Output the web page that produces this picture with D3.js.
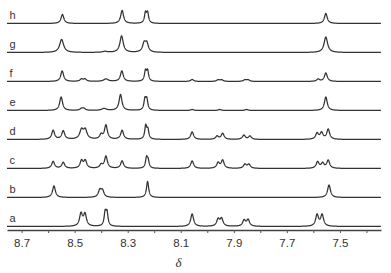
<!DOCTYPE html>
<html>
<head>
<meta charset="utf-8">
<script src="https://cdn.jsdelivr.net/npm/d3@7"></script>
<style>
  body { margin: 0; background: #fff; }
  svg { display: block; }
</style>
</head>
<body>
<div id="chart"></div>
<script>
// samples, top to bottom
const samples = ['h', 'g', 'f', 'e', 'd', 'c', 'b', 'a']

// peak lists: [shift (ppm), intensity, half width (ppm, optional)]
const peaksH = [[8.546, 9], [8.321, 13], [8.233, 10, 0.0045], [8.225, 10, 0.0045], [7.553, 10]]
const peaksG = [[8.549, 13, 0.009], [8.386, 1, 0.01], [8.323, 16.5, 0.0075], [8.238, 8.5, 0.007], [8.228, 8.5, 0.007], [7.553, 15.5, 0.008]]
const peaksF = [[8.547, 10.5], [8.474, 2.3], [8.461, 2.3], [8.382, 2.5, 0.01], [8.322, 10.5], [8.233, 10, 0.0045], [8.225, 10, 0.0045],
                [8.057, 2], [7.959, 1.6], [7.946, 1.6], [7.858, 1.6], [7.846, 1.6], [7.582, 2.3], [7.553, 8.5]]
const peaksE = [[8.551, 13.5], [8.474, 1.8], [8.465, 1.8], [8.389, 2, 0.01], [8.327, 16], [8.235, 10.5, 0.0045], [8.228, 10.5, 0.0045],
                [8.057, 1], [7.953, 1], [7.852, 1], [7.553, 13.5]]
const peaksD = [[8.581, 9], [8.543, 8.5], [8.474, 9, 0.008], [8.460, 9, 0.008], [8.400, 4.5], [8.382, 14], [8.321, 9],
                [8.232, 13, 0.0045], [8.224, 9, 0.0045], [8.057, 7.5], [7.963, 3.2], [7.942, 6], [7.862, 4.2], [7.839, 3.3],
                [7.586, 6], [7.569, 6.5], [7.544, 10]]
const peaksC = [[8.581, 7], [8.543, 6], [8.474, 7.5], [8.460, 7.5], [8.400, 3.5], [8.382, 12], [8.321, 7.5],
                [8.229, 10, 0.0045], [8.223, 7, 0.0045], [8.057, 7.5], [7.959, 5.5], [7.942, 8], [7.858, 4], [7.843, 4],
                [7.584, 6.5], [7.565, 5], [7.544, 8]]
const peaksB = [[8.578, 11.5], [8.405, 7], [8.395, 6.5], [8.225, 16, 0.005], [7.541, 12.5]]
const peaksA = [[8.476, 12.5], [8.461, 12], [8.385, 13, 0.0045], [8.378, 13, 0.0045], [8.057, 12.5], [7.959, 7], [7.946, 7.5],
                [7.861, 6], [7.846, 6.5], [7.586, 11.5], [7.567, 11.5]]

const peakLists = { h: peaksH, g: peaksG, f: peaksF, e: peaksE, d: peaksD, c: peaksC, b: peaksB, a: peaksA }

// axis
const shiftRange = [8.755, 7.345]
const tickValues = [8.7, 8.6, 8.5, 8.4, 8.3, 8.2, 8.1, 8.0, 7.9, 7.8, 7.7, 7.6, 7.5, 7.4]
const tickLabels = ['8.7', '8.5', '8.3', '8.1', '7.9', '7.7', '7.5']

const width = 391
const height = 273
const defaultHalfWidth = 0.0065

const x = d3.scaleLinear().domain(shiftRange).range([7, 381])
const yBase = d3.scalePoint().domain(samples).range([23.5, 226.5])
const yAmp = d3.scaleLinear().domain([0, 20]).range([0, 20])

// lorentzian line shape for each peak
function spectrum(peaks) {
    let pts = []
    for (let s = shiftRange[0]; s >= shiftRange[1]; s -= 0.0004) {
        let v = 0
        peaks.forEach(p => {
            let w = p[2] || defaultHalfWidth
            let d = (s - p[0]) / w
            v += p[1] / (1 + d * d)
        })
        pts.push([s, v])
    }
    return pts
}

let svg = d3.select('#chart')
    .append('svg')
    .attr('width', width)
    .attr('height', height)
    .style('background', '#fff')

samples.forEach(name => {
    let line = d3.line()
        .x(d => x(d[0]))
        .y(d => yBase(name) - yAmp(d[1]))

    svg.append('path')
        .datum(spectrum(peakLists[name]))
        .attr('d', line)
        .attr('fill', 'none')
        .attr('stroke', '#333')
        .attr('stroke-width', 1.25)
        .attr('stroke-linejoin', 'round')

    svg.append('text')
        .attr('x', 9.5)
        .attr('y', yBase(name) - 5)
        .attr('font-family', 'Arial, "Liberation Sans", sans-serif')
        .attr('font-size', 11)
        .attr('fill', '#333')
        .text(name)
})

let axis = d3.axisBottom(x)
    .tickValues(tickValues)
    .tickSize(3)
    .tickSizeOuter(0)
    .tickPadding(6)
    .tickFormat(d => tickLabels.includes(d.toFixed(1)) ? d.toFixed(1) : '')

let gAxis = svg.append('g')
    .attr('transform', 'translate(0,230)')
    .call(axis)

gAxis.select('.domain').attr('stroke', '#444').attr('stroke-width', 1.3)
gAxis.selectAll('.tick line').attr('stroke', '#555')
gAxis.selectAll('.tick text')
    .attr('font-family', 'Arial, "Liberation Sans", sans-serif')
    .attr('font-size', 11.5)
    .attr('fill', '#333')

svg.append('text')
    .attr('x', 178.5)
    .attr('y', 267)
    .attr('text-anchor', 'middle')
    .attr('font-family', '"Times New Roman", "Liberation Serif", serif')
    .attr('font-style', 'italic')
    .attr('font-size', 13)
    .attr('fill', '#333')
    .text('δ')
</script>
</body>
</html>
